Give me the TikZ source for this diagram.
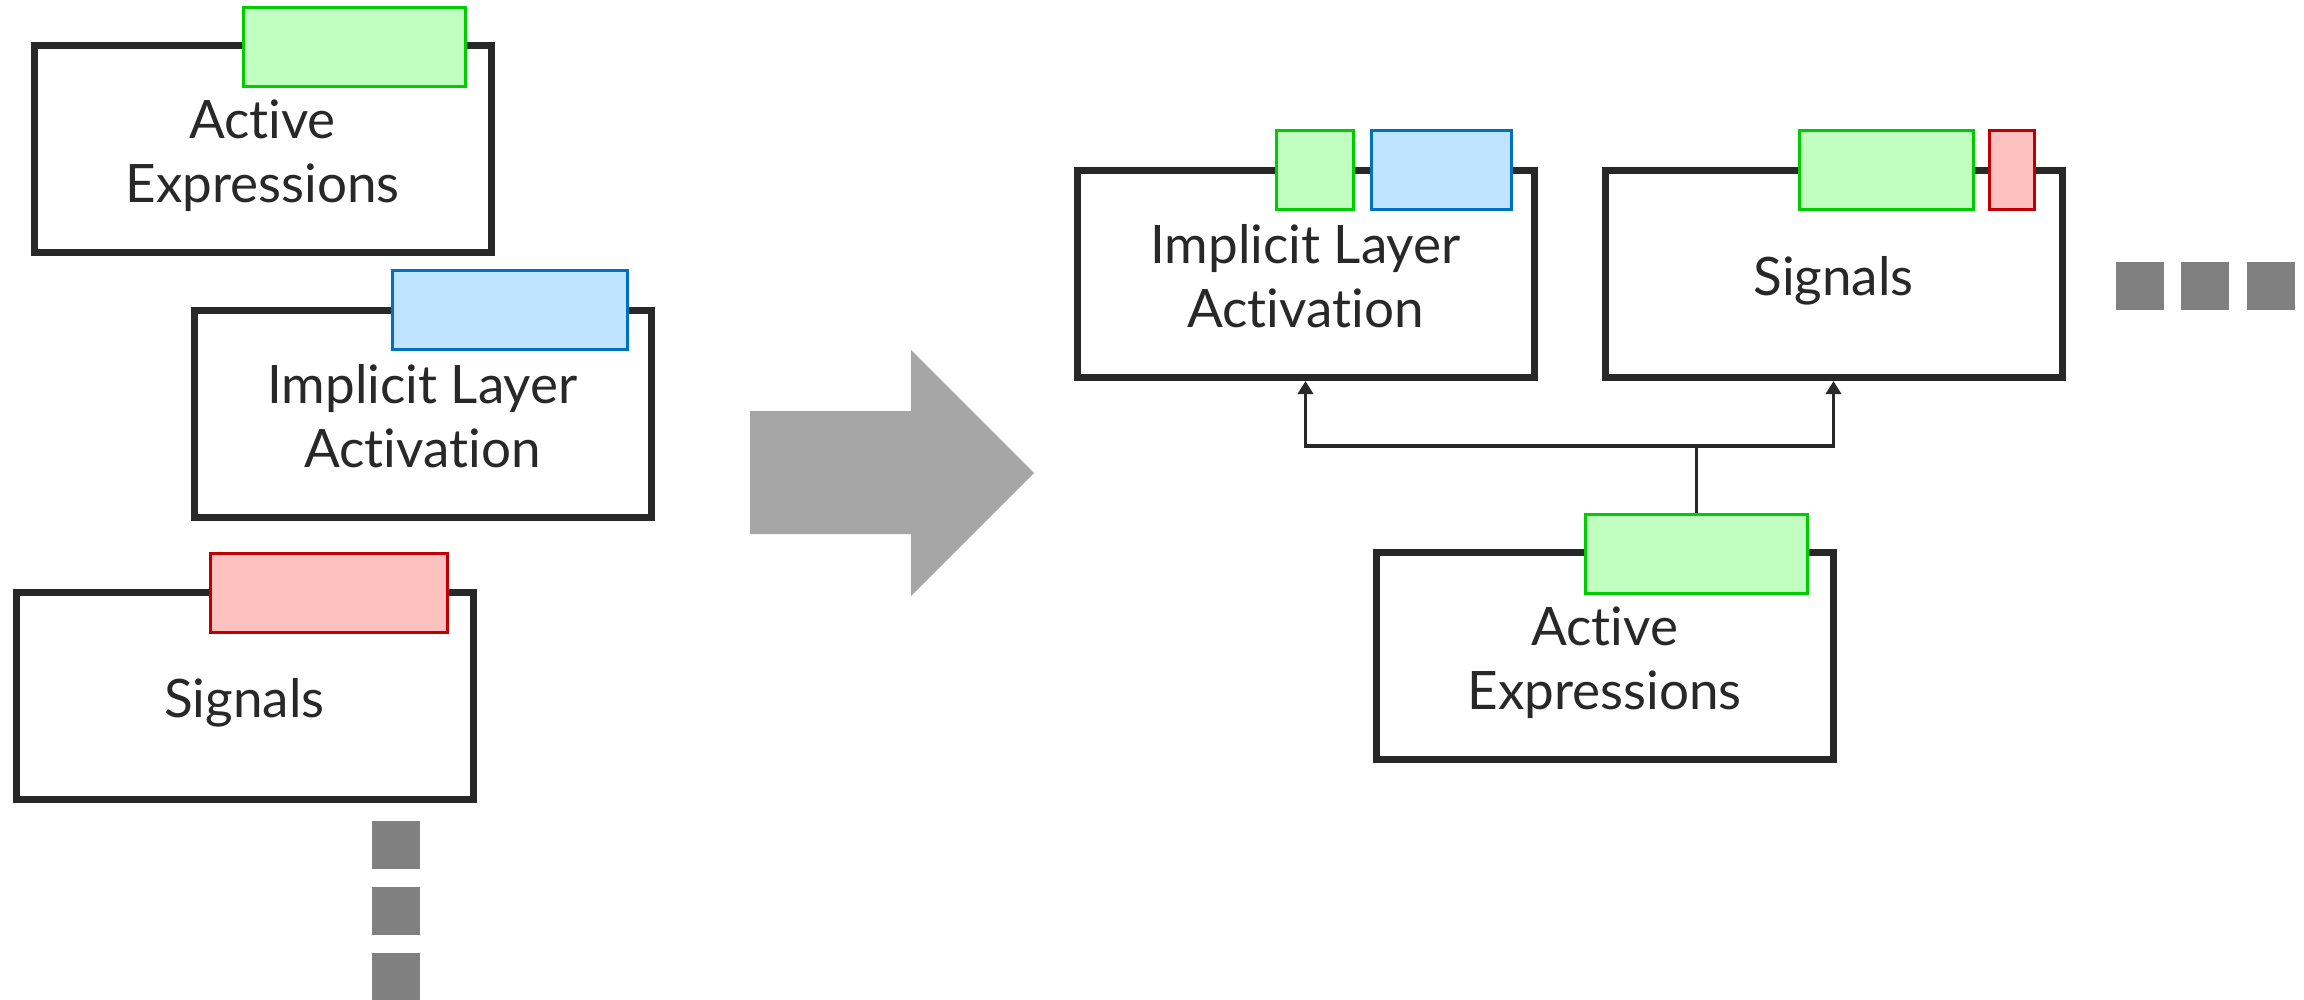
\documentclass[tikz,border=0pt]{standalone}
\usepackage{fontspec}
\setmainfont{Lato}[Ligatures={NoCommon,NoRare,NoContextual}]
\usetikzlibrary{arrows.meta}

\definecolor{ink}{HTML}{282828}
\definecolor{greenfill}{HTML}{C0FFC0}
\definecolor{greenline}{HTML}{00CC00}
\definecolor{bluefill}{HTML}{BFE4FF}
\definecolor{blueline}{HTML}{0070C0}
\definecolor{redfill}{HTML}{FFC0C0}
\definecolor{redline}{HTML}{C00000}
\definecolor{dots}{HTML}{808080}
\definecolor{bigarrow}{HTML}{A6A6A6}

\tikzset{
  layerbox/.style={draw=ink, line width=7pt, fill=white, rectangle, inner sep=0pt,
    minimum width=457pt, minimum height=207pt,
    label={[boxtext]center:#1}},
  boxtext/.style={align=center, text=ink, yshift=-7pt, inner sep=0pt,
    font=\fontsize{53}{64}\selectfont},
  tag/.style={rectangle, line width=3pt, inner sep=0pt, minimum height=79pt},
  greentag/.style={tag, draw=greenline, fill=greenfill},
  bluetag/.style={tag, draw=blueline, fill=bluefill},
  redtag/.style={tag, draw=redline, fill=redfill},
  dotsq/.style={rectangle, fill=dots, inner sep=0pt, minimum width=48pt, minimum height=48pt},
  conn/.style={draw=ink, line width=3.5pt},
  connarrow/.style={conn, -{Triangle[width=15pt,length=13pt]}},
}

\begin{document}
\begin{tikzpicture}[x=1pt, y=-1pt]
  \useasboundingbox (0,0) rectangle (2304,999);

  % ---- stacked layers (left) ----
  \node[layerbox={Active\\Expressions}] (ae) at (262.5,149) {};
  \node[greentag, minimum width=222pt] (aetag) at (354.5,47) {};

  \node[layerbox={Implicit Layer\\Activation\vphantom{p}}] (ila) at (422.5,413.5) {};
  \node[bluetag, minimum width=235pt] (ilatag) at (510,310) {};

  \node[layerbox={Signals}] (sg) at (244.5,695.5) {};
  \node[redtag, minimum width=237pt] (sgtag) at (329,593) {};

  \node[dotsq] (v1) at (396,845) {};
  \node[dotsq] (v2) at (396,911) {};
  \node[dotsq] (v3) at (396,977) {};

  % ---- transition arrow ----
  \fill[bigarrow] (750,411) -- (911,411) -- (911,350) -- (1034,473)
    -- (911,596) -- (911,534) -- (750,534) -- cycle;

  % ---- composed layers (right) ----
  \node[layerbox={Implicit Layer\\Activation\vphantom{p}}] (rila) at (1305.5,274) {};
  \node[greentag, minimum width=77pt] (rilag) at (1315,170) {};
  \node[bluetag, minimum width=140pt] (rilab) at (1441.5,170) {};

  \node[layerbox={Signals}] (rsg) at (1833.5,274) {};
  \node[greentag, minimum width=174pt] (rsgg) at (1886.5,170) {};
  \node[redtag, minimum width=45pt] (rsgr) at (2012,170) {};

  \node[layerbox={Active\\Expressions}] (rae) at (1604.5,656) {};
  \node[greentag, minimum width=222pt] (raetag) at (1696.5,553.5) {};

  \node[dotsq] (h1) at (2140,286) {};
  \node[dotsq] (h2) at (2205,286) {};
  \node[dotsq] (h3) at (2271,286) {};

  % ---- connectors ----
  \coordinate (split) at (1696.5,446);
  \draw[conn] (raetag.north) -- (split);
  \draw[connarrow] (split) -| (rila.south);
  \draw[connarrow] (split) -| (rsg.south);
\end{tikzpicture}
\end{document}
